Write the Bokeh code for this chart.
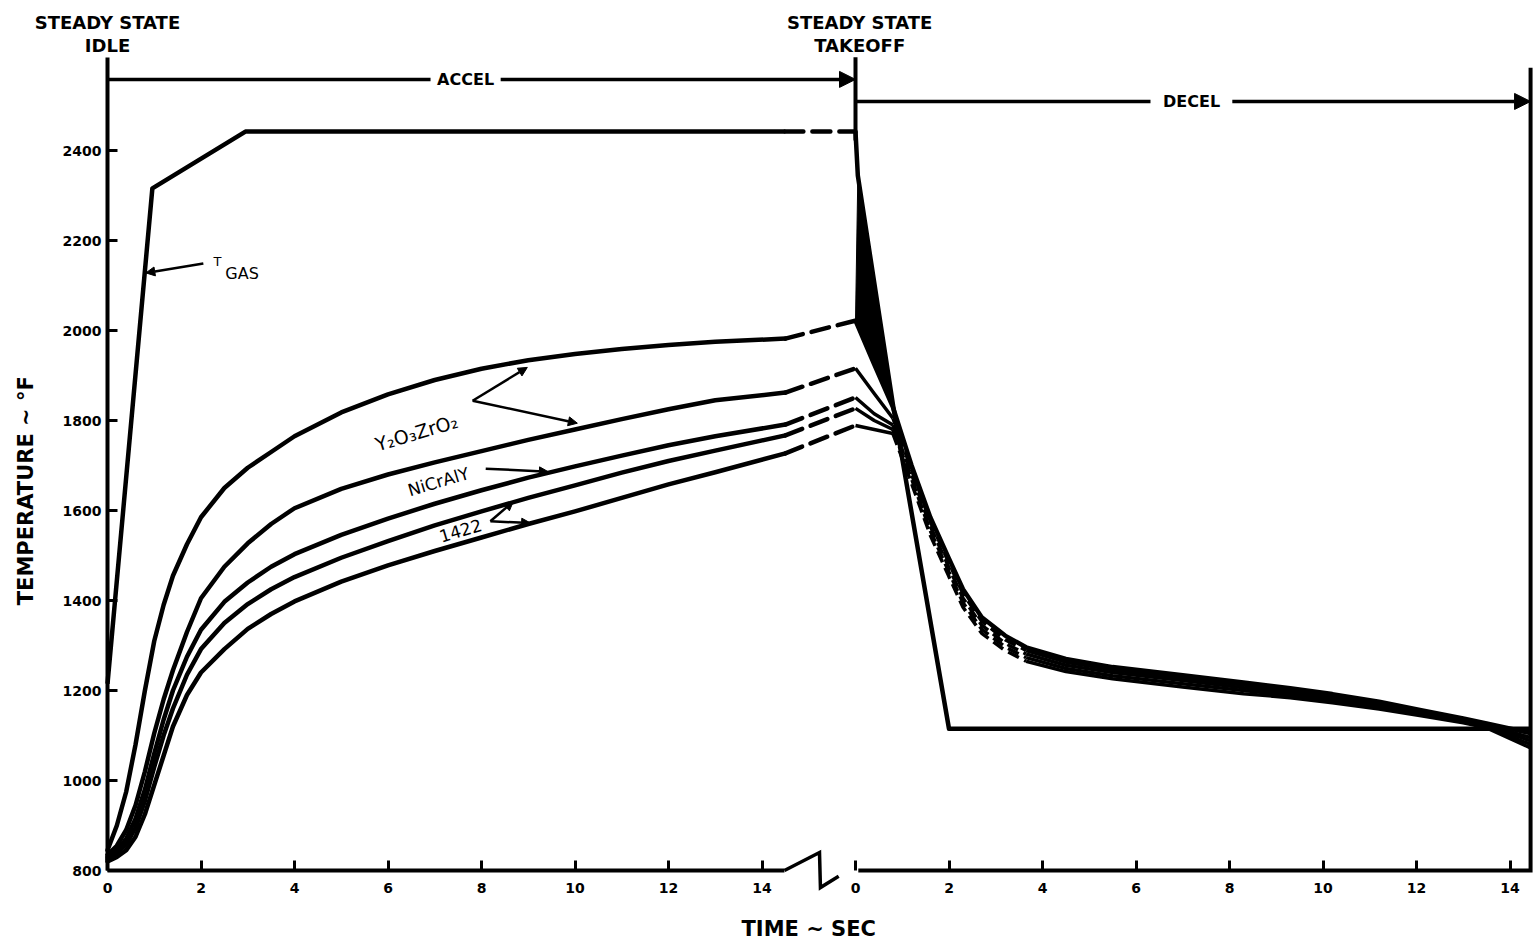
import math
from bokeh.plotting import figure
from bokeh.models import FixedTicker, Label, Arrow, NormalHead, Range1d
from bokeh.embed import file_html
from bokeh.resources import INLINE

# ---------------- data ----------------
# acceleration: time (s) from steady-state idle; five metal temperature traces A (top) .. E (bottom)
accel_t = [0, 0.2, 0.4, 0.6, 0.8, 1.0, 1.2, 1.4, 1.7, 2.0, 2.5, 3.0, 3.5, 4.0, 5.0, 6.0, 7.0, 8.0,
           9.0, 10.0, 11.0, 12.0, 13.0, 14.5]
accel_A = [845, 900, 975, 1080, 1200, 1310, 1390, 1455, 1525, 1585, 1650, 1695, 1730, 1765, 1818, 1858,
           1890, 1915, 1934, 1948, 1959, 1968, 1975, 1982]
accel_B = [835, 855, 890, 945, 1020, 1105, 1180, 1245, 1330, 1405, 1475, 1527, 1570, 1605, 1648, 1680,
           1707, 1732, 1757, 1780, 1803, 1825, 1845, 1862]
accel_C = [830, 845, 870, 915, 980, 1060, 1135, 1200, 1275, 1335, 1397, 1440, 1475, 1503, 1546, 1582,
           1615, 1645, 1673, 1698, 1722, 1745, 1765, 1791]
accel_D = [825, 838, 858, 895, 955, 1030, 1100, 1160, 1235, 1292, 1350, 1392, 1425, 1452, 1495, 1532,
           1567, 1598, 1628, 1656, 1684, 1710, 1733, 1767]
accel_E = [820, 830, 845, 875, 925, 990, 1055, 1120, 1190, 1240, 1292, 1337, 1370, 1398, 1442, 1478,
           1510, 1540, 1570, 1598, 1628, 1658, 1685, 1727]
takeoff_metal = [2022, 1916, 1851, 1827, 1789]          # steady-state takeoff values (A..E)

gas_accel_t = [0, 0.96, 2.95, 14.5]
gas_accel_T = [1215, 2316, 2442, 2442]
gas_takeoff = 2442

# deceleration: time (s) from steady-state takeoff
decel_t = [0, 0.4, 0.8, 1.2, 1.6, 2.0, 2.3, 2.7, 3.2, 3.65, 4.5, 5.5, 7.0, 8.3, 9.3, 10.2, 11.2, 12.1,
           13.0, 13.5, 14.45]
decel_A = [2022, 1925, 1830, 1700, 1585, 1493, 1425, 1363, 1322, 1296, 1270, 1252, 1234, 1218, 1205,
           1192, 1175, 1156, 1138, 1127, 1105]
decel_B = [1916, 1860, 1805, 1690, 1575, 1483, 1415, 1354, 1313, 1289, 1263, 1246, 1228, 1212, 1199,
           1187, 1171, 1153, 1136, 1124, 1095]
decel_C = [1851, 1815, 1790, 1680, 1565, 1473, 1405, 1345, 1305, 1281, 1256, 1240, 1222, 1206, 1194,
           1182, 1167, 1150, 1133, 1121, 1088]
decel_D = [1827, 1800, 1780, 1670, 1555, 1463, 1395, 1336, 1297, 1273, 1249, 1233, 1215, 1200, 1189,
           1178, 1163, 1147, 1130, 1119, 1080]
decel_E = [1789, 1780, 1771, 1660, 1545, 1453, 1385, 1327, 1289, 1265, 1242, 1226, 1208, 1193, 1184,
           1173, 1159, 1144, 1128, 1117, 1072]

gas_decel_t = [0, 0.05, 0.81, 2.0, 14.45]
gas_decel_T = [2442, 2344, 1829, 1115, 1115]

x_ticks = [0, 2, 4, 6, 8, 10, 12, 14]
y_ticks = [800, 1000, 1200, 1400, 1600, 1800, 2000, 2200, 2400]

# ---------------- layout ----------------
OFF = 16.0            # plot position of decel t = 0 (after the axis break)
SOLID_END = 14.5      # end of the solid accel traces
W, H = 1538, 947
X0PX, Y0PX = 107, 870  # canvas pixel of (t=0, 800 F)
XPX = 46.75            # px per second
YPX = 0.45             # px per degree
x_start, x_end = -X0PX / XPX, (W - X0PX) / XPX
y_start, y_end = 800 - (H - Y0PX) / YPX, 800 + Y0PX / YPX
Y_TOP = 2607           # top of the temperature axis line

FONT = "DejaVu Sans"
LW = 4.5

p = figure(width=W, height=H, output_backend="svg", toolbar_location=None,
           x_range=Range1d(x_start, x_end), y_range=Range1d(y_start, y_end),
           min_border_left=0, min_border_right=0, min_border_top=0, min_border_bottom=0)
p.title.visible = False
p.outline_line_color = None
p.grid.visible = False
p.background_fill_color = "white"
p.border_fill_color = "white"

# axes, fixed at t = 0 and 800 F
all_ticks = x_ticks + [OFF + t for t in x_ticks]
p.xaxis.fixed_location = 800
p.yaxis.fixed_location = 0
p.xaxis.ticker = FixedTicker(ticks=all_ticks)
p.xaxis.major_label_overrides = {OFF + t: str(t) for t in x_ticks}
p.yaxis.ticker = FixedTicker(ticks=y_ticks)
p.yaxis.bounds = (800, Y_TOP)
for ax in (p.xaxis[0], p.yaxis[0]):
    ax.major_tick_in = 10
    ax.major_tick_out = 0
    ax.minor_tick_line_color = None
    ax.major_tick_line_width = 3
    ax.major_tick_line_color = "black"
    ax.major_label_text_font = FONT
    ax.major_label_text_font_style = "bold"
    ax.major_label_text_font_size = "14px"
    ax.major_label_text_color = "black"
p.xaxis.axis_line_color = None
p.xaxis.major_label_standoff = 12
p.yaxis.axis_line_width = 4
p.yaxis.axis_line_color = "black"
p.yaxis.major_label_standoff = 6


def seg(xs, ys, lw=4):
    p.line(xs, ys, line_width=lw, line_color="black", line_join="miter")


def arrow(x0, y0, x1, y1, lw=2.5, size=10):
    p.add_layout(Arrow(x_start=x0, y_start=y0, x_end=x1, y_end=y1,
                       end=NormalHead(size=size, fill_color="black", line_color="black"),
                       line_width=lw, line_color="black"))


def lab(x, y, text, size="15px", angle=0.0, align="center", style="bold"):
    p.add_layout(Label(x=x, y=y, text=text, angle=angle, text_align=align,
                       text_baseline="middle", text_font=FONT, text_font_style=style,
                       text_font_size=size, text_color="black"))


# x-axis line with break (zig-zag), right border line, takeoff marker
seg([0, 14.48], [800, 800])
seg([14.48, 15.23, 15.25, 15.64], [800, 840, 762, 787], lw=3.5)
seg([16.06, 30.44, 30.44], [800, 800, 2584])
seg([OFF, OFF], [Y_TOP, 2422])

# ---------------- curves ----------------
for acc, to in zip([accel_A, accel_B, accel_C, accel_D, accel_E], takeoff_metal):
    p.line(accel_t, acc, line_width=LW, line_color="black", line_join="round", line_cap="round")
    p.line([SOLID_END, OFF], [acc[-1], to], line_width=LW, line_color="black",
           line_dash="18 9", line_cap="round")

p.line(gas_accel_t, gas_accel_T, line_width=LW, line_color="black", line_join="round")
p.line([SOLID_END, OFF], [gas_accel_T[-1], gas_takeoff], line_width=LW, line_color="black",
       line_dash="18 9", line_cap="round")

dx = [OFF + t for t in decel_t]
# dark wedge where the gas trace and the top metal trace converge after takeoff
p.patch([OFF + gas_decel_t[1], dx[0], dx[2], OFF + gas_decel_t[2]],
        [gas_decel_T[1], decel_A[0], decel_A[2], gas_decel_T[2]],
        fill_color="black", line_color="black", line_width=1)
p.line(dx, decel_A, line_width=LW, line_color="black", line_join="round")
for dec in [decel_B, decel_C, decel_D, decel_E]:
    p.line(dx[:3], dec[:3], line_width=LW - 1, line_color="black", line_join="round")
    p.line(dx[2:10], dec[2:10], line_width=LW - 1, line_color="black", line_dash="12 6")
    p.line(dx[9:], dec[9:], line_width=LW - 1, line_color="black", line_join="round")
p.line([OFF + t for t in gas_decel_t], gas_decel_T, line_width=LW, line_color="black",
       line_join="round")

# ---------------- annotations ----------------
# ACCEL / DECEL arrows
seg([0, 6.91], [2558, 2558], lw=3.5)
lab(7.66, 2558, "ACCEL", size="16px")
arrow(8.41, 2558, OFF, 2558, lw=3.5, size=16)
seg([OFF, 22.31], [2509, 2509], lw=3.5)
lab(23.19, 2509, "DECEL", size="16px")
arrow(24.06, 2509, 30.44, 2509, lw=3.5, size=16)

lab(0, 2684, "STEADY STATE", size="18px")
lab(0, 2633, "IDLE", size="18px")
lab(OFF + 0.09, 2684, "STEADY STATE", size="18px")
lab(OFF + 0.09, 2633, "TAKEOFF", size="18px")

# T_GAS
lab(2.35, 2153, "T", size="13px", style="normal")
lab(2.52, 2127, "GAS", size="16px", align="left", style="normal")
arrow(2.05, 2149, 0.82, 2128, lw=2.5, size=9)

# coating labels
ang = 0.29
lab(6.61, 1773, "Y₂O₃ZrO₂", size="19px", angle=ang, style="normal")
arrow(7.81, 1844, 8.98, 1918, size=9)
arrow(7.81, 1844, 10.05, 1794, size=9)

lab(7.08, 1664, "NiCrAlY", size="17px", angle=ang, style="normal")
arrow(8.09, 1693, 9.43, 1686, size=9)

lab(7.55, 1556, "1422", size="17px", angle=ang, style="normal")
arrow(8.19, 1576, 8.68, 1620, size=9)
arrow(8.19, 1576, 9.05, 1572, size=9)

# axis titles
lab(15.0, 671, "TIME ~ SEC", size="21px")
lab(-1.75, 1644, "TEMPERATURE ~ °F", size="21px", angle=math.pi / 2)

open("out.html", "w").write(file_html(p, INLINE))
